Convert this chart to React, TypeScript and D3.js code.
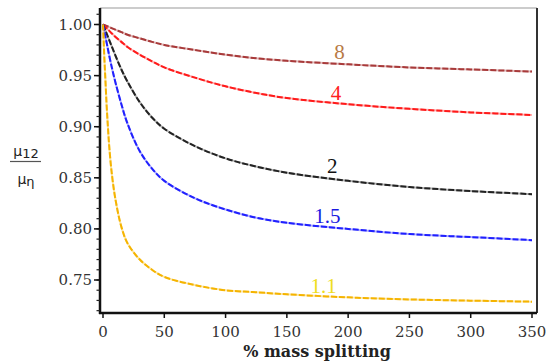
import React from "react";
import * as d3 from "d3";

const xValues = [0, 1, 2, 3, 4, 5, 7, 10, 15, 20, 30, 40, 50, 75, 100, 125, 150, 200, 250, 300, 350];
const series8 = [1.0, 0.9995, 0.999, 0.9985, 0.998, 0.9975, 0.9965, 0.995, 0.9925, 0.99, 0.9865, 0.983, 0.98, 0.975, 0.9705, 0.967, 0.9645, 0.961, 0.958, 0.956, 0.954];
const series4 = [1.0, 0.9988, 0.9976, 0.9964, 0.9952, 0.994, 0.9915, 0.988, 0.983, 0.978, 0.9705, 0.964, 0.958, 0.948, 0.9395, 0.933, 0.928, 0.922, 0.9175, 0.914, 0.9115];
const series2 = [1.0, 0.997, 0.994, 0.991, 0.988, 0.985, 0.979, 0.97, 0.956, 0.944, 0.924, 0.909, 0.898, 0.881, 0.869, 0.861, 0.855, 0.847, 0.841, 0.837, 0.834];
const series15 = [1.0, 0.994, 0.988, 0.982, 0.976, 0.97, 0.959, 0.944, 0.922, 0.903, 0.876, 0.859, 0.847, 0.83, 0.819, 0.811, 0.806, 0.8, 0.795, 0.792, 0.789];
const series11 = [1.0, 0.97, 0.945, 0.92, 0.9, 0.882, 0.856, 0.83, 0.802, 0.786, 0.77, 0.76, 0.753, 0.745, 0.74, 0.738, 0.736, 0.733, 0.731, 0.7298, 0.7288];

const seriesLabels = ["8", "4", "2", "1.5", "1.1"];
const labelAnchors = [[193, 0.966], [190, 0.9265], [187, 0.855], [183, 0.806], [180, 0.7375]];
const xTicks = [0, 50, 100, 150, 200, 250, 300, 350];
const yTicks = [0.75, 0.8, 0.85, 0.9, 0.95, 1.0];
const yMinorTicks = d3.range(72, 102).map((d) => d / 100);

const lineColors = ["#a83a3a", "#ff1a1a", "#222222", "#2020ff", "#f5b400"];
const labelColors = ["#b87a45", "#ff2020", "#111111", "#1a1ae0", "#eedd20"];

export default function App() {
  const left = 100, right = 537, top = 8, bottom = 313;
  const x = d3.scaleLinear().domain([0, 350]).range([103, 532]);
  const y = d3.scaleLinear().domain([0.75, 1.0]).range([280, 24.5]);
  const allSeries = [series8, series4, series2, series15, series11];
  const line = d3
    .line<number>()
    .x((_, i) => x(xValues[i]))
    .y((d) => y(d))
    .curve(d3.curveCatmullRom.alpha(0.5));

  return (
    <svg width={548} height={362} style={{ position: "absolute", left: 0, top: 0, background: "#fff" }}>
      {/* frame */}
      <line x1={left} x2={right} y1={top} y2={top} stroke="#999" strokeWidth={1} />
      <line x1={right} x2={right} y1={top} y2={bottom} stroke="#333" strokeWidth={2} />

      {/* curves */}
      {allSeries.map((s, i) => (
        <g key={i}>
          <path d={line(s) || ""} fill="none" stroke={lineColors[i]} strokeWidth={2} strokeOpacity={0.35} />
          <path d={line(s) || ""} fill="none" stroke={lineColors[i]} strokeWidth={2} strokeDasharray="6 2" />
        </g>
      ))}

      {/* curve labels */}
      {seriesLabels.map((l, i) => (
        <text
          key={l}
          x={x(labelAnchors[i][0])}
          y={y(labelAnchors[i][1])}
          textAnchor="middle"
          fontFamily="'Liberation Serif', serif"
          fontSize={21}
          fill={labelColors[i]}
        >
          {l}
        </text>
      ))}

      {/* y axis */}
      <line x1={left} x2={left} y1={top} y2={bottom + 1} stroke="#111" strokeWidth={2.5} />
      {yMinorTicks.map((t) => (
        <line key={"m" + t} x1={left - 3.5} x2={left} y1={y(t)} y2={y(t)} stroke="#222" strokeWidth={1.2} />
      ))}
      {yTicks.map((t) => (
        <g key={t}>
          <line x1={left - 6} x2={left} y1={y(t)} y2={y(t)} stroke="#111" strokeWidth={1.5} />
          <text
            x={left - 8}
            y={y(t) + 5}
            textAnchor="end"
            fontFamily="'DejaVu Serif', serif"
            fontSize={15}
            fill="#333"
          >
            {t.toFixed(2)}
          </text>
        </g>
      ))}

      {/* x axis */}
      <line x1={left - 1} x2={right} y1={bottom} y2={bottom} stroke="#111" strokeWidth={2.5} />
      {xTicks.map((t) => (
        <g key={t}>
          <line x1={x(t)} x2={x(t)} y1={bottom} y2={bottom + 5} stroke="#111" strokeWidth={1.5} />
          <text
            x={x(t)}
            y={bottom + 24}
            textAnchor="middle"
            fontFamily="'DejaVu Serif', serif"
            fontSize={15}
            fill="#333"
          >
            {t}
          </text>
        </g>
      ))}
      <text
        x={317}
        y={357}
        textAnchor="middle"
        fontFamily="'DejaVu Serif', serif"
        fontSize={16}
        fontWeight="bold"
        fill="#222"
      >
        % mass splitting
      </text>

      {/* y label fraction */}
      <g fontFamily="'DejaVu Sans', sans-serif" fill="#222">
        <text x={26} y={156} textAnchor="middle" fontSize={14}>
          μ<tspan fontSize={13} dy={2}>12</tspan>
        </text>
        <line x1={10} x2={41} y1={161.5} y2={161.5} stroke="#555" strokeWidth={1.2} />
        <text x={26} y={184} textAnchor="middle" fontSize={14}>
          μ<tspan fontSize={13} dy={2}>η</tspan>
        </text>
      </g>
    </svg>
  );
}
